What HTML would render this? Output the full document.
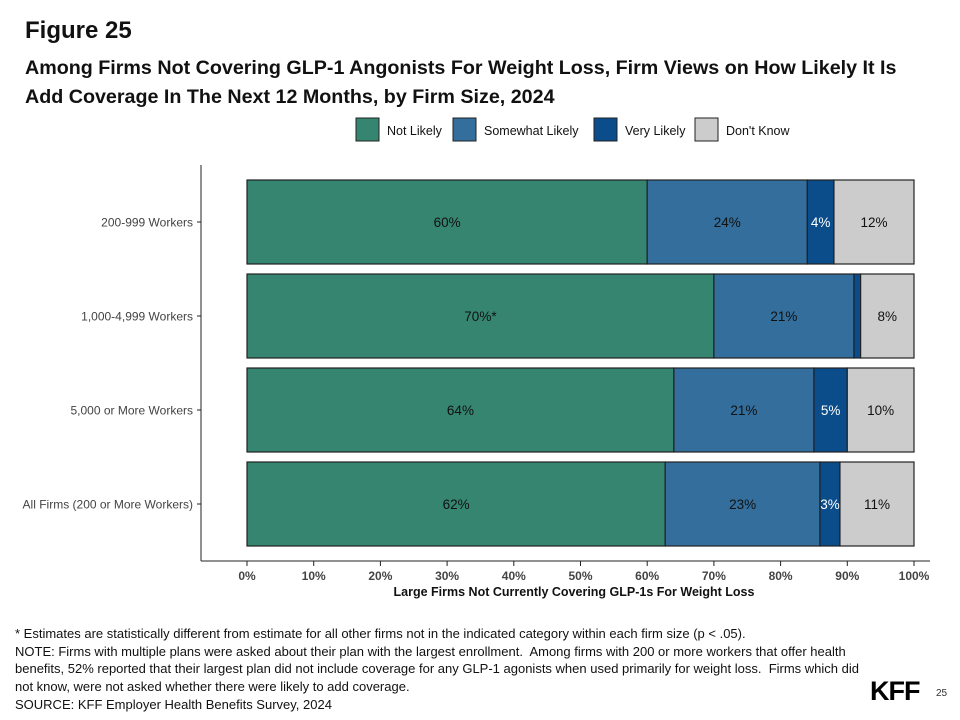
<!DOCTYPE html>
<html><head><meta charset="utf-8">
<style>
body{margin:0;background:#fff;font-family:"Liberation Sans",Arial,sans-serif;}
#wrap{position:relative;width:960px;height:720px;overflow:hidden;}
.t{position:absolute;white-space:nowrap;}
</style></head>
<body>
<div id="wrap">
<div class="t" style="left:25px;top:17px;font-size:24px;font-weight:bold;color:#111;">Figure 25</div>
<div class="t" style="left:25px;top:54px;font-size:19.7px;font-weight:bold;color:#111;line-height:29px;">Among Firms Not Covering GLP-1 Angonists For Weight Loss, Firm Views on How Likely It Is<br>Add Coverage In The Next 12 Months, by Firm Size, 2024</div>
<svg id="chart" width="960" height="720" style="position:absolute;left:0;top:0"></svg>
<div class="t" style="left:15px;top:625px;font-size:13px;color:#111;line-height:17.7px;">* Estimates are statistically different from estimate for all other firms not in the indicated category within each firm size (p &lt; .05).<br>NOTE: Firms with multiple plans were asked about their plan with the largest enrollment.&nbsp; Among firms with 200 or more workers that offer health<br>benefits, 52% reported that their largest plan did not include coverage for any GLP-1 agonists when used primarily for weight loss.&nbsp; Firms which did<br>not know, were not asked whether there were likely to add coverage.<br>SOURCE: KFF Employer Health Benefits Survey, 2024</div>
<div class="t" style="left:870px;top:676px;font-size:27px;font-weight:900;color:#000;letter-spacing:-1px;">KFF</div>
<div class="t" style="left:936px;top:688px;font-size:10px;color:#333;">25</div>
</div>
<script>
const categories=["200-999 Workers","1,000-4,999 Workers","5,000 or More Workers","All Firms (200 or More Workers)"];
const seriesNames=["Not Likely","Somewhat Likely","Very Likely","Don't Know"];
const notLikely=[60,70,64,62.7];
const somewhatLikely=[24,21,21,23.2];
const veryLikely=[4,1,5,3];
const dontKnow=[12,8,10,11.1];
const labels=[["60%","24%","4%","12%"],["70%*","21%","","8%"],["64%","21%","5%","10%"],["62%","23%","3%","11%"]];
const ticks=[0,10,20,30,40,50,60,70,80,90,100];
const colors=["#358570","#336e9c","#0a4d8a","#cccccc"];
const textColors=["#111","#111","#fff","#111"];
const svg=document.getElementById('chart');
const NS="http://www.w3.org/2000/svg";
const x=v=>247+v*6.67;
const y=i=>180+i*94;
const bh=84;
function mk(t,a){const e=document.createElementNS(NS,t);for(const k in a)e.setAttribute(k,a[k]);svg.appendChild(e);return e;}
let e=mk('line',{x1:201,y1:165,x2:201,y2:561,stroke:'#222','stroke-width':1});

e=mk('line',{x1:201,y1:561,x2:930,y2:561,stroke:'#222','stroke-width':1});

ticks.forEach(t=>{
 let l=mk('line',{x1:x(t),y1:561,x2:x(t),y2:566,stroke:'#222'});
 
 let tx=mk('text',{x:x(t),y:580,'text-anchor':'middle','font-size':12,'font-weight':'bold',fill:'#444'});
 tx.textContent=t+'%';
 
});
e=mk('text',{x:574,y:596,'text-anchor':'middle','font-size':12.5,'font-weight':'bold',fill:'#111'});
e.textContent='Large Firms Not Currently Covering GLP-1s For Weight Loss';

const series=[notLikely,somewhatLikely,veryLikely,dontKnow];
categories.forEach((c,i)=>{
 let cy=y(i)+bh/2;
 let l=mk('line',{x1:197,y1:cy,x2:201,y2:cy,stroke:'#222'});
 
 let tx=mk('text',{x:193,y:cy+4.5,'text-anchor':'end','font-size':12,fill:'#444'});
 tx.textContent=c;
 
 let acc=0;
 series.forEach((s,k)=>{
  let r=mk('rect',{x:x(acc),y:y(i),width:s[i]*6.67,height:bh,fill:colors[k],stroke:'#222','stroke-width':1.2});
  
  if(labels[i][k]){
   let t=mk('text',{x:x(acc+s[i]/2),y:cy+5,'text-anchor':'middle','font-size':13.5,fill:textColors[k]});
   t.textContent=labels[i][k];
   
  }
  acc+=s[i];
 });
});
const lx=[356,453,594,695];
seriesNames.forEach((n,k)=>{
 let r=mk('rect',{x:lx[k],y:118,width:23,height:23,fill:colors[k],stroke:'#222'});
 
 let t=mk('text',{x:lx[k]+31,y:135,'font-size':12.5,fill:'#111'});
 t.textContent=n;
 
});
</script>
</body></html>
